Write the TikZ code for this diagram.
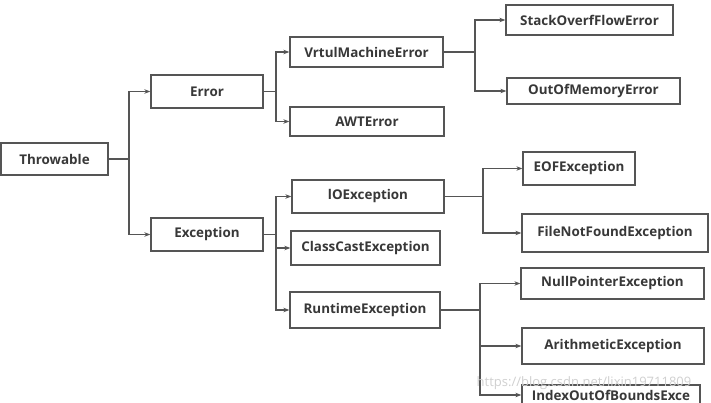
\documentclass[tikz,border=0pt]{standalone}
\usepackage{fontspec}
\setmainfont{Open Sans}
\usetikzlibrary{arrows.meta}
\definecolor{txt}{HTML}{383838}
\definecolor{ln}{HTML}{555555}
\definecolor{wm}{HTML}{D0D0D0}
\tikzset{
  cls/.style={draw=ln, line width=1.3pt, fill=white, text=txt, font=\bfseries\fontsize{13.4}{15}\selectfont, inner sep=0pt, anchor=center},
  link/.style={draw=ln, line width=1.3pt},
  arr/.style={link, -{Stealth[length=6pt,width=4.5pt]}},
}
\begin{document}
\begin{tikzpicture}[x=1pt,y=-1pt]
\useasboundingbox (0,0) rectangle (711,403);
\clip (0,0) rectangle (711,403);
\fill[white] (0,0) rectangle (711,403);
% nodes
\node[cls, minimum width=107pt, minimum height=32pt] (thr) at (54.5,159) {Throwable};
\node[cls, minimum width=112pt, minimum height=33pt] (err) at (207,91.5) {Error};
\node[cls, minimum width=112pt, minimum height=33pt] (exc) at (207,234.5) {Exception};
\node[cls, minimum width=153pt, minimum height=30pt] (vme) at (366.5,52) {VrtulMachineError};
\node[cls, minimum width=154pt, minimum height=29pt] (awt) at (367,121.5) {AWTError};
\node[cls, minimum width=167pt, minimum height=30pt] (sof) at (589.5,20) {StackOverfFlowError};
\node[cls, minimum width=173pt, minimum height=26pt] (oom) at (593.5,91) {OutOfMemoryError};
\node[cls, minimum width=152pt, minimum height=33pt] (ioe) at (368,196.5) {lOException};
\node[cls, minimum width=149pt, minimum height=34pt] (cce) at (365.5,248) {ClassCastException};
\node[cls, minimum width=150pt, minimum height=36pt] (rte) at (365,310) {RuntimeException};
\node[cls, minimum width=112pt, minimum height=33pt] (eof) at (579,168.5) {EOFException};
\node[cls, minimum width=186pt, minimum height=38pt] (fnf) at (615,233) {FileNotFoundException};
\node[cls, minimum width=183pt, minimum height=31pt] (npe) at (612.5,283.5) {NullPointerException};
\node[cls, minimum width=182pt, minimum height=36pt] (ari) at (613,346) {ArithmeticException};
\node[cls, minimum width=178pt, minimum height=20pt] (iob) at (611,395) {IndexOutOfBoundsExce};
% junctions
\coordinate (j1) at (129,159);
\coordinate (j2) at (276,91.5);
\coordinate (j3) at (276,234.5);
\coordinate (j4) at (475,52);
\coordinate (j5) at (483,196.5);
\coordinate (j6) at (480,310);
% connectors
\draw[link] (thr.east) -- (j1);
\draw[arr] (j1) |- (err.west);
\draw[arr] (j1) |- (exc.west);
\draw[link] (err.east) -- (j2);
\draw[arr] (j2) |- (vme.west);
\draw[arr] (j2) |- (awt.west);
\draw[link] (exc.east) -- (j3);
\draw[arr] (j3) |- (ioe.west);
\draw[arr] (j3) |- (cce.west);
\draw[arr] (j3) |- (rte.west);
\draw[link] (vme.east) -- (j4);
\draw[arr] (j4) |- (sof.west);
\draw[arr] (j4) |- (oom.west);
\draw[link] (ioe.east) -- (j5);
\draw[arr] (j5) |- (eof.west);
\draw[arr] (j5) |- (fnf.west);
\draw[link] (rte.east) -- (j6);
\draw[arr] (j6) |- (npe.west);
\draw[arr] (j6) |- (ari.west);
\draw[arr] (j6) |- (iob.west);
% watermark
\node[text=wm, font=\fontsize{13}{14}\selectfont, anchor=center, inner sep=0pt] (wmk) at (584,383) {https://blog.csdn.net/lixin19711809};
\end{tikzpicture}
\end{document}
